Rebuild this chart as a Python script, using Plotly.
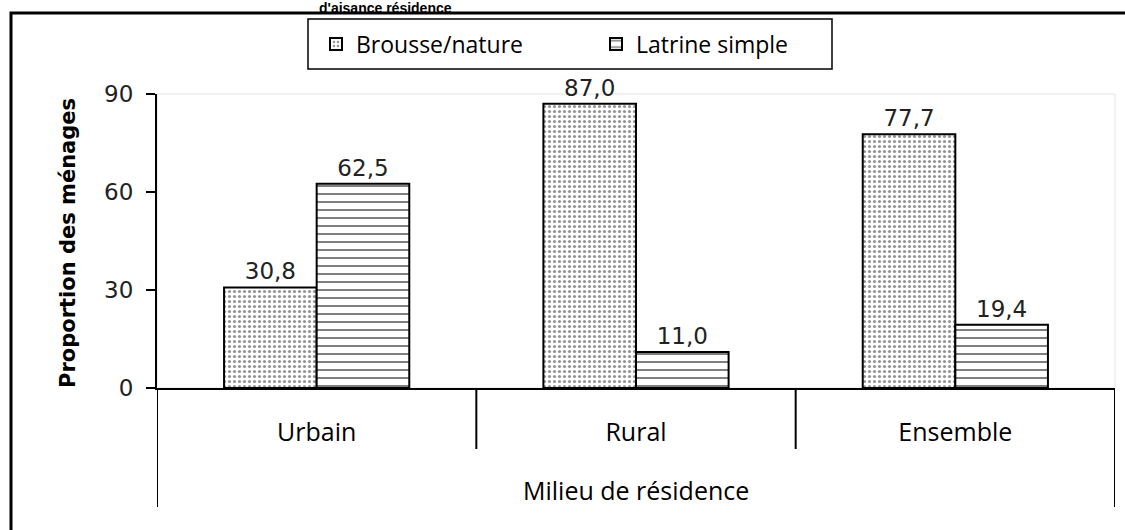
import plotly.graph_objects as go

# Data
categories = ["Urbain", "Rural", "Ensemble"]
brousse = [30.8, 87.0, 77.7]
latrine = [62.5, 11.0, 19.4]
series_names = ["Brousse/nature", "Latrine simple"]
y_ticks = [0, 30, 60, 90]
y_title = "Proportion des ménages"
x_title = "Milieu de résidence"
top_title = "d'aisance résidence"

# Canvas and plot-area geometry (pixels)
W, H = 1125, 530
PL, PR, PT, PB = 157, 1115, 94, 388


def px_x(x):
    return (x - PL) / (PR - PL)


def px_y(y):
    return (PB - y) / (PB - PT)


num_font = "DejaVu Sans"
txt_font = "Open Sans"

fig = go.Figure()
fig.add_trace(go.Bar(
    x=categories, y=brousse, name=series_names[0],
    marker=dict(color="white", line=dict(color="black", width=2),
                pattern=dict(shape=".", size=5, solidity=0.32,
                             fgcolor="#2a2a2a", bgcolor="white", fillmode="overlay")),
    texttemplate="%{y:.1f}", textposition="outside", cliponaxis=False,
    textfont=dict(family=num_font, size=23, color="#222222"),
))
fig.add_trace(go.Bar(
    x=categories, y=latrine, name=series_names[1],
    marker=dict(color="white", line=dict(color="black", width=2),
                pattern=dict(shape="-", size=8, solidity=0.25,
                             fgcolor="black", bgcolor="white", fillmode="overlay")),
    texttemplate="%{y:.1f}", textposition="outside", cliponaxis=False,
    textfont=dict(family=num_font, size=23, color="#222222"),
))

shapes = [
    # outer frame
    dict(type="rect", xref="paper", yref="paper",
         x0=px_x(11), x1=px_x(1160), y0=px_y(13), y1=px_y(560),
         line=dict(color="black", width=3), layer="below"),
    # faint plot-area border
    dict(type="rect", xref="paper", yref="paper", x0=0, x1=1, y0=0, y1=1,
         line=dict(color="#e4e4e4", width=1), layer="below"),
    # legend box
    dict(type="rect", xref="paper", yref="paper",
         x0=px_x(308), x1=px_x(832), y0=px_y(19), y1=px_y(69),
         line=dict(color="black", width=1.5)),
]
# category boundary lines below the axis
for b, bottom in [(-0.5, 507), (0.5, 449), (1.5, 449), (2.5, 507)]:
    shapes.append(dict(type="line", xref="x", yref="paper", x0=b, x1=b,
                       y0=0, y1=px_y(bottom), line=dict(color="black", width=2)))

annotations = [
    dict(text=y_title, xref="paper", yref="paper", x=px_x(68), y=px_y(243),
         textangle=-90, showarrow=False, xanchor="center", yanchor="middle",
         font=dict(family=num_font, size=21, color="black", weight="bold")),
    dict(text=x_title, xref="paper", yref="paper", x=px_x(636), y=px_y(490),
         showarrow=False, xanchor="center", yanchor="middle",
         font=dict(family=txt_font, size=25, color="black")),
    dict(text=top_title, xref="paper", yref="paper", x=px_x(385), y=px_y(-1),
         showarrow=False, xanchor="center", yanchor="top", borderpad=0,
         font=dict(family="Liberation Sans", size=14, color="black", weight="bold")),
]

fig.update_layout(
    width=W, height=H,
    margin=dict(l=PL, r=W - PR, t=PT, b=H - PB),
    paper_bgcolor="white", plot_bgcolor="white",
    barmode="group", bargap=0.42, bargroupgap=0,
    separators=", ",
    showlegend=True,
    legend=dict(orientation="h", x=px_x(316), y=px_y(44), xanchor="left", yanchor="middle",
                entrywidth=235, entrywidthmode="pixels",
                font=dict(family=txt_font, size=23, color="black"),
                bgcolor="rgba(0,0,0,0)", borderwidth=0, traceorder="normal"),
    shapes=shapes, annotations=annotations,
    xaxis=dict(type="category", range=[-0.5, 2.5], showline=True, linecolor="black",
               linewidth=2, ticks="", showgrid=False, zeroline=False,
               tickfont=dict(family=txt_font, size=25, color="black"),
               ticklabelstandoff=21),
    yaxis=dict(range=[0, 90], tickvals=y_ticks, showline=True, linecolor="black",
               linewidth=2, ticks="outside", ticklen=9, tickwidth=2, tickcolor="black",
               showgrid=False, zeroline=False,
               tickfont=dict(family=num_font, size=23, color="#222222"),
               ticklabelstandoff=8),
)

fig.write_html("out.html")
